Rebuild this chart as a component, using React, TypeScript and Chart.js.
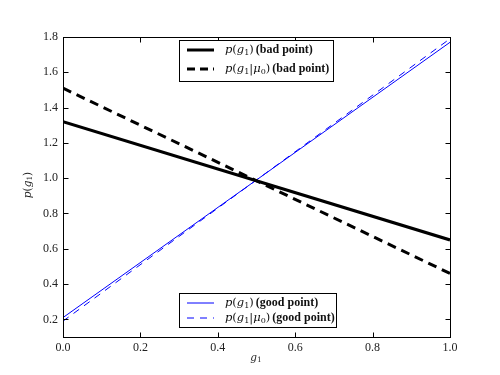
import React, { useEffect, useRef } from "react";
import { Chart, registerables } from "chart.js";
Chart.register(...registerables);

const xValues = [0, 1];
const badP = [1.32, 0.65];
const badPMu = [1.51, 0.46];
const goodP = [0.21, 1.77];
const goodPMu = [0.19, 1.79];
const xTicks = [0, 0.2, 0.4, 0.6, 0.8, 1.0];
const yTicks = [0.2, 0.4, 0.6, 0.8, 1.0, 1.2, 1.4, 1.6, 1.8];
const X_MIN = 0, X_MAX = 1, Y_MIN = 0.1, Y_MAX = 1.8;

type Seg = { t: string; it?: boolean; b?: boolean; sub?: boolean; gap?: number };
const FAMILY = "'Liberation Serif', 'DejaVu Serif', serif";
const MATH = "'DejaVu Serif', serif";

function segFont(s: Seg, size: number) {
  if (s.b) return `bold ${size}px ${FAMILY}`;
  const sz = s.sub ? size * 0.7 : size;
  return `${s.it ? "italic " : ""}${sz}px ${MATH}`;
}
function richWidth(ctx: CanvasRenderingContext2D, segs: Seg[], size: number, textSize: number) {
  let w = 0;
  for (const s of segs) { ctx.font = segFont(s, s.b ? textSize : size); w += ctx.measureText(s.t).width + (s.gap ?? 0); }
  return w;
}
function drawRich(ctx: CanvasRenderingContext2D, segs: Seg[], x: number, y: number, size: number, align: "left" | "center", color = "#000", textSize = size) {
  let cx = align === "center" ? x - richWidth(ctx, segs, size, textSize) / 2 : x;
  ctx.textAlign = "left";
  ctx.textBaseline = "middle";
  ctx.fillStyle = color;
  for (const s of segs) {
    cx += s.gap ?? 0;
    ctx.font = segFont(s, s.b ? textSize : size);
    ctx.fillText(s.t, cx, s.sub ? y + size * 0.22 : y);
    cx += ctx.measureText(s.t).width;
  }
}

const pg1: Seg[] = [{ t: "p", it: true }, { t: "(" }, { t: "g", it: true }, { t: "1", sub: true }, { t: ")" }];
const pg1mu: Seg[] = [{ t: "p", it: true }, { t: "(" }, { t: "g", it: true }, { t: "1", sub: true }, { t: "|" }, { t: "μ", it: true }, { t: "0", sub: true }, { t: ")" }];

const legendTop = [
  { segs: [...pg1, { t: "(bad point)", b: true, gap: 2 }], color: "#000", width: 3, dash: [] as number[] },
  { segs: [...pg1mu, { t: "(bad point)", b: true, gap: 2 }], color: "#000", width: 3, dash: [8, 5] },
];
const legendBottom = [
  { segs: [...pg1, { t: "(good point)", b: true, gap: 2 }], color: "#0000ff", width: 1, dash: [] as number[] },
  { segs: [...pg1mu, { t: "(good point)", b: true, gap: 2 }], color: "#0000ff", width: 1, dash: [7, 6] },
];

function drawLegend(ctx: CanvasRenderingContext2D, items: any[], box: { l: number; t: number; r: number; b: number }, rows: number[]) {
  ctx.save();
  ctx.fillStyle = "#fff";
  ctx.fillRect(box.l, box.t, box.r - box.l, box.b - box.t);
  ctx.strokeStyle = "#000";
  ctx.lineWidth = 1;
  ctx.strokeRect(box.l + 0.5, box.t + 0.5, box.r - box.l, box.b - box.t);
  items.forEach((it, i) => {
    const y = rows[i];
    ctx.beginPath();
    ctx.strokeStyle = it.color;
    ctx.lineWidth = it.width;
    ctx.setLineDash(it.dash);
    ctx.moveTo(box.l + 8, y);
    ctx.lineTo(box.l + 35, y);
    ctx.stroke();
    ctx.setLineDash([]);
    drawRich(ctx, it.segs, box.l + 46, y, 11.5, "left", "#111", 12);
  });
  ctx.restore();
}

const overlay = {
  id: "overlay",
  afterDraw(chart: any) {
    const ctx: CanvasRenderingContext2D = chart.ctx;
    const { left, right, top, bottom } = chart.chartArea;
    const xs = chart.scales.x, ys = chart.scales.y;
    ctx.save();
    ctx.strokeStyle = "#000";
    ctx.lineWidth = 1;
    const L = Math.round(left) + 0.5, R = Math.round(right) + 0.5, T = Math.round(top) + 0.5, B = Math.round(bottom) + 0.5;
    ctx.strokeRect(L, T, R - L, B - T);
    const tl = 5;
    ctx.beginPath();
    for (const v of xTicks) {
      const px = Math.round(xs.getPixelForValue(v)) + 0.5;
      ctx.moveTo(px, B); ctx.lineTo(px, B - tl);
      ctx.moveTo(px, T); ctx.lineTo(px, T + tl);
    }
    for (const v of yTicks) {
      const py = Math.round(ys.getPixelForValue(v)) + 0.5;
      ctx.moveTo(L, py); ctx.lineTo(L + tl, py);
      ctx.moveTo(R, py); ctx.lineTo(R - tl, py);
    }
    ctx.stroke();
    // axis titles
    drawRich(ctx, [{ t: "g", it: true }, { t: "1", sub: true }], 256, 358, 10.5, "center", "#222");
    ctx.save();
    ctx.translate(28, 185);
    ctx.rotate(-Math.PI / 2);
    drawRich(ctx, pg1, 0, 0, 10.5, "center", "#222");
    ctx.restore();
    drawLegend(ctx, legendTop, { l: 179, t: 40, r: 333, b: 81 }, [50, 69]);
    drawLegend(ctx, legendBottom, { l: 179, t: 293, r: 336, b: 327 }, [303, 318]);
    ctx.restore();
  },
};

export default function App() {
  const ref = useRef<HTMLCanvasElement>(null);
  useEffect(() => {
    if (!ref.current) return;
    const mk = (vals: number[]) => xValues.map((x, i) => ({ x, y: vals[i] }));
    const chart = new Chart(ref.current, {
      type: "line",
      data: {
        datasets: [
          { label: "p(g1) (bad point)", data: mk(badP), borderColor: "#000", borderWidth: 3, pointRadius: 0, fill: false },
          { label: "p(g1|mu0) (bad point)", data: mk(badPMu), borderColor: "#000", borderWidth: 3, borderDash: [9, 6], pointRadius: 0, fill: false },
          { label: "p(g1) (good point)", data: mk(goodP), borderColor: "#0000ff", borderWidth: 1, pointRadius: 0, fill: false },
          { label: "p(g1|mu0) (good point)", data: mk(goodPMu), borderColor: "#0000ff", borderWidth: 1, borderDash: [7, 6], pointRadius: 0, fill: false },
        ],
      },
      options: {
        animation: false,
        responsive: false,
        devicePixelRatio: 1,
        layout: { padding: { top: 37, right: 50, left: 0, bottom: 0 } },
        plugins: { legend: { display: false }, tooltip: { enabled: false } },
        scales: {
          x: {
            type: "linear", min: X_MIN, max: X_MAX,
            grid: { display: false, drawTicks: false },
            border: { display: false },
            afterBuildTicks: (s: any) => { s.ticks = xTicks.map((v) => ({ value: v })); },
            afterFit: (s: any) => { s.height = 38; },
            ticks: { color: "#222", padding: 4, maxRotation: 0, font: { family: FAMILY, size: 12 }, callback: (v: any) => Number(v).toFixed(1) },
          },
          y: {
            type: "linear", min: Y_MIN, max: Y_MAX,
            grid: { display: false, drawTicks: false },
            border: { display: false },
            afterBuildTicks: (s: any) => { s.ticks = yTicks.map((v) => ({ value: v })); },
            afterFit: (s: any) => { s.width = 63; },
            ticks: { color: "#222", padding: 5, font: { family: FAMILY, size: 12 }, callback: (v: any) => Number(v).toFixed(1) },
          },
        },
      },
      plugins: [overlay],
    });
    return () => chart.destroy();
  }, []);
  return (
    <div style={{ position: "absolute", left: 0, top: 0, width: 500, height: 375, background: "#fff" }}>
      <canvas ref={ref} width={500} height={375} style={{ display: "block" }} />
    </div>
  );
}
